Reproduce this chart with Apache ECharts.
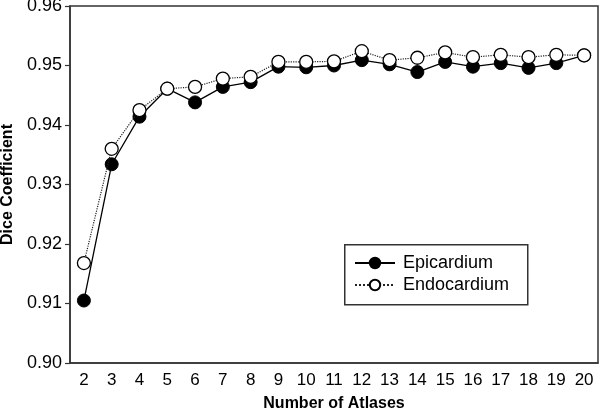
<!DOCTYPE html>
<html><head><meta charset="utf-8">
<script src="https://cdn.jsdelivr.net/npm/echarts@6/dist/echarts.min.js"></script>
<style>html,body{margin:0;padding:0;background:#fff}#c{width:600px;height:414px}</style>
</head><body><div id="c"></div>
<script>
var categories = ['2','3','4','5','6','7','8','9','10','11','12','13','14','15','16','17','18','19','20'];
var epicardium = [0.9105,0.9334,0.9414,0.9461,0.9438,0.9464,0.9472,0.9498,0.9497,0.9500,0.9509,0.9502,0.9489,0.9506,0.9498,0.9504,0.9496,0.9504,0.9517];
var endocardium = [0.9168,0.9360,0.9425,0.9461,0.9464,0.9478,0.9481,0.9506,0.9506,0.9507,0.9524,0.9509,0.9513,0.9522,0.9514,0.9518,0.9514,0.9518,0.9517];
var yTicks = {min:0.90, max:0.96, interval:0.01};

var chart = echarts.init(document.getElementById('c'));
var font = '"Liberation Sans", Arial, sans-serif';
chart.setOption({
  animation:false,
  backgroundColor:'#fff',
  grid:{left:70, top:6, right:2, bottom:51, outerBoundsMode:'none', containLabel:false,
        show:true, borderColor:'#333', borderWidth:1.5, backgroundColor:'transparent'},
  graphic:[{type:'rect', left:344, top:244, z:5,
    shape:{width:183, height:60},
    style:{fill:'#fff', stroke:'#333', lineWidth:1.5}}],
  legend:{
    left:344, top:244, orient:'vertical', z:10,
    padding:[10,10,10,10], itemGap:4, itemWidth:40, itemHeight:13,
    textStyle:{fontFamily:font, fontSize:18, color:'#000', padding:[0,0,0,3]},
    data:['Epicardium','Endocardium']
  },
  xAxis:{
    type:'category', data:categories, boundaryGap:true,
    name:'Number of Atlases', nameLocation:'middle', nameGap:33,
    nameTextStyle:{fontFamily:font, fontSize:16, fontWeight:'bold', color:'#000'},
    axisLine:{lineStyle:{color:'#333', width:1.5}},
    axisTick:{alignWithLabel:true, length:5, lineStyle:{color:'#333', width:1.2}},
    axisLabel:{fontFamily:font, fontSize:17, color:'#000', margin:9, interval:0},
    splitLine:{show:false}
  },
  yAxis:{
    type:'value', min:yTicks.min, max:yTicks.max, interval:yTicks.interval,
    name:'Dice Coefficient', nameLocation:'middle', nameGap:51,
    nameTextStyle:{fontFamily:font, fontSize:16, fontWeight:'bold', color:'#000'},
    axisLine:{show:true, lineStyle:{color:'#333', width:1.5}},
    axisTick:{show:true, length:5, lineStyle:{color:'#333', width:1.2}},
    axisLabel:{fontFamily:font, fontSize:18, color:'#000', margin:8, formatter:function(v){return v.toFixed(2);}},
    splitLine:{show:false}
  },
  series:[
    {name:'Endocardium', type:'line', data:endocardium, symbol:'circle', symbolSize:13,
     lineStyle:{color:'#222', width:1.2, type:'dotted'},
     itemStyle:{color:'#fff', borderColor:'#000', borderWidth:1.3}, z:3},
    {name:'Epicardium', type:'line', data:epicardium, symbol:'circle', symbolSize:13,
     lineStyle:{color:'#000', width:1.3},
     itemStyle:{color:'#000', borderColor:'#000', borderWidth:1}, z:2}
  ]
});
</script></body></html>
